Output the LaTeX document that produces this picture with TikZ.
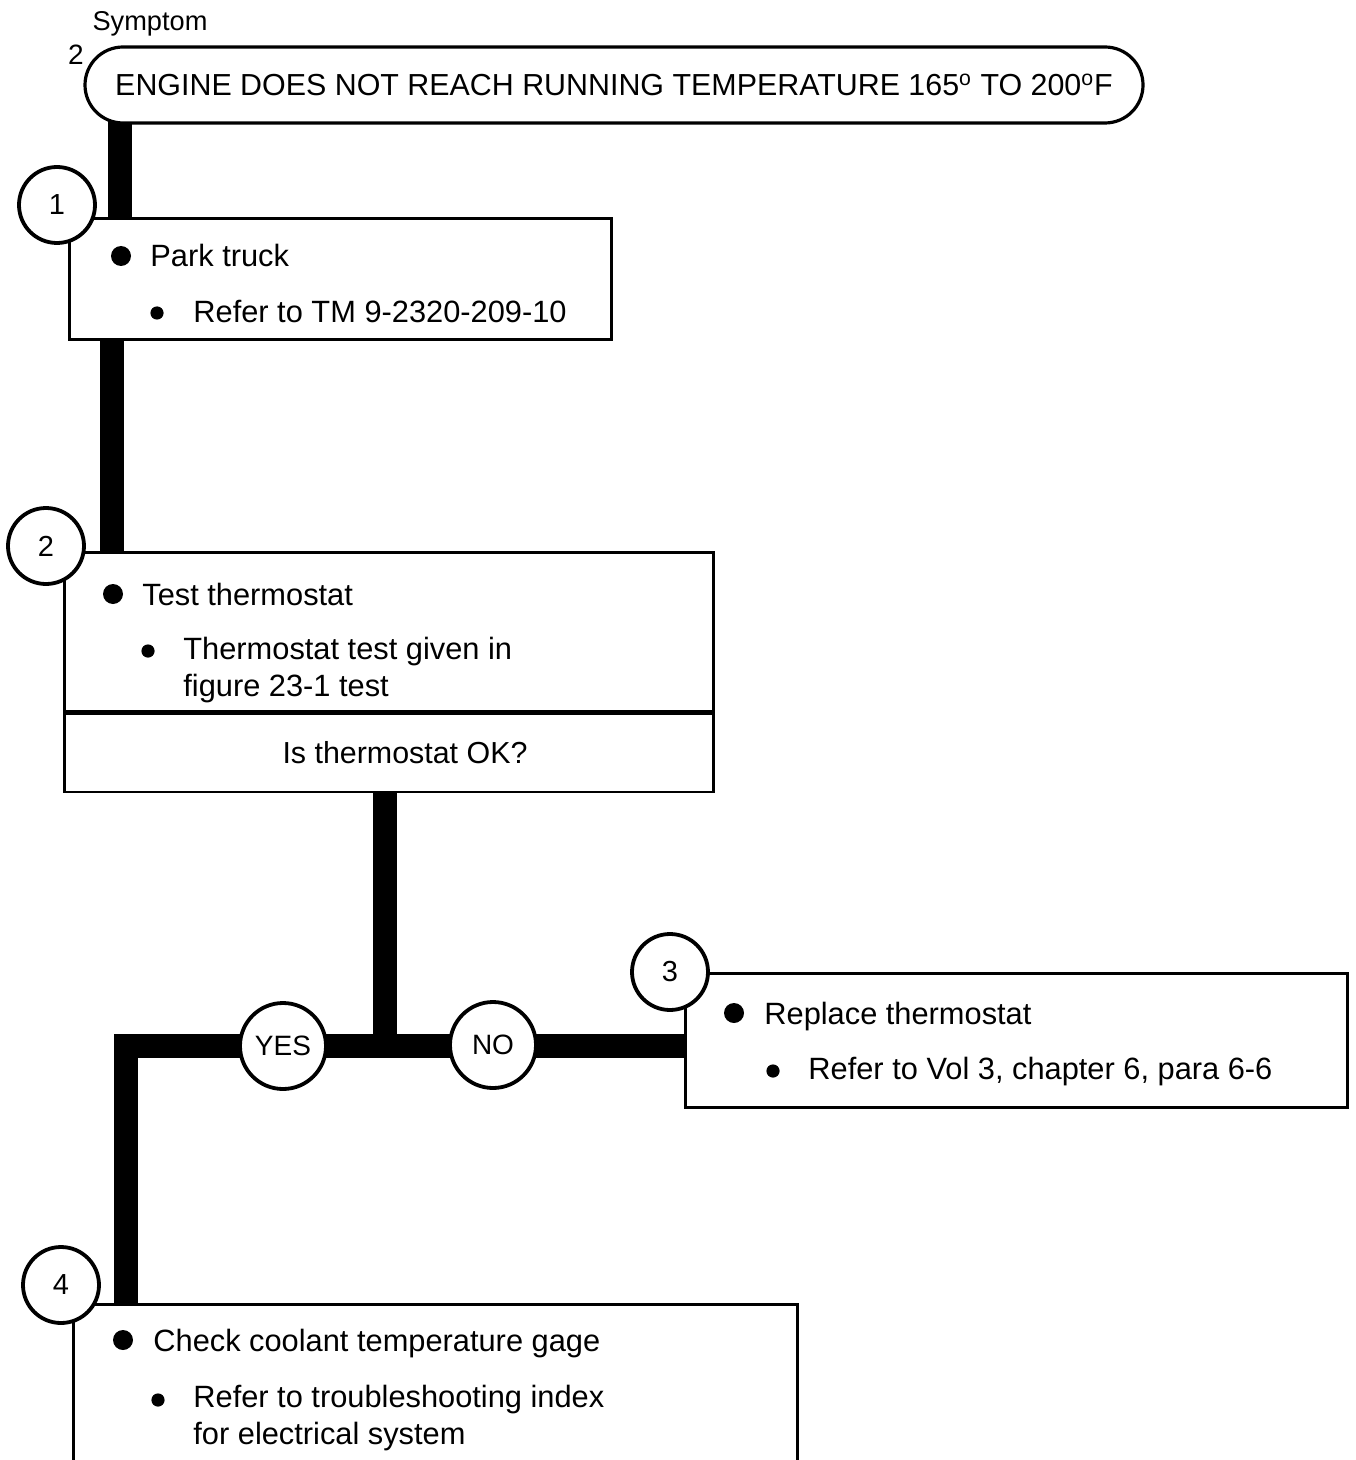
\documentclass[tikz,border=0pt]{standalone}
\usepackage{fontspec}
\setmainfont{Liberation Sans}
\usetikzlibrary{positioning, calc, backgrounds}

\tikzset{
  stepbox/.style={draw, line width=1.3pt, fill=white, anchor=north west, inner sep=0pt},
  stepnum/.style={draw, circle, line width=1.9pt, fill=white, minimum size=38pt, inner sep=0pt, font=\fontsize{14.5}{14.5}\selectfont},
  answer/.style={draw, circle, line width=1.9pt, fill=white, minimum size=43pt, inner sep=0pt, font=\fontsize{14}{14}\selectfont},
  flow/.style={line width=12pt},
  steptext/.style={anchor=base west, inner sep=0pt, align=left, font=\fontsize{15.4}{18.5}\selectfont},
}

\begin{document}
\begin{tikzpicture}[x=0.5pt, y=-0.5pt]
\useasboundingbox (0,0) rectangle (1355,1460);

% symptom
\node[anchor=base, inner sep=0pt, font=\fontsize{13.6}{13.6}\selectfont] (symlabel) at (150,31) {Symptom};
\node[anchor=base, inner sep=0pt, font=\fontsize{14}{14}\selectfont] (symnum) at (76,65) {2};
\node[draw, line width=1.6pt, rounded corners=19pt, minimum width=529pt, minimum height=38pt, inner sep=0pt, fill=white,
      font=\fontsize{15.2}{15.2}\selectfont] (symptom) at (614,85)
  {ENGINE DOES NOT REACH RUNNING TEMPERATURE 165\textsuperscript{o} TO 200\textsuperscript{o}F};

% boxes
\node[stepbox, minimum width=271pt, minimum height=60.5pt] (park) at (68,217) {};
\node[stepbox, minimum width=324.5pt, minimum height=79.5pt] (test) at (63,551) {};
\node[stepbox, minimum width=324.5pt, minimum height=39pt] (ok) at (test.south west) {};
\node[stepbox, minimum width=331pt, minimum height=67pt] (replace) at (684,972) {};
\node[stepbox, minimum width=362pt, minimum height=120pt] (gage) at (72,1303) {};

% texts (two-line texts sit on their last baseline)
\node[steptext] (parkmain) at (150,267) {Park truck};
\node[steptext] (parksub) at (193,323) {Refer to TM 9-2320-209-10};
\node[steptext] (testmain) at (142,605) {Test thermostat};
\node[steptext] (testsub) at (183,696) {Thermostat test given in\\figure 23-1 test};
\node[anchor=base, inner sep=0pt, font=\fontsize{15.2}{15.2}\selectfont] (okq) at (405,763) {Is thermostat OK?};
\node[steptext] (replmain) at (764,1024) {Replace thermostat};
\node[steptext] (replsub) at (808,1079) {Refer to Vol 3, chapter 6, para 6-6};
\node[steptext] (gagemain) at (153,1351) {Check coolant temperature gage};
\node[steptext] (gagesub) at (193,1444) {Refer to troubleshooting index\\for electrical system};

% bullets
\foreach \x/\y in {121/256, 113/594, 734/1013, 123/1340}
  \fill (\x,\y) circle (5pt);
\foreach \x/\y in {157/313, 148/651, 773/1071, 158/1400}
  \fill (\x,\y) circle (3.3pt);

% step numbers
\foreach \n/\x/\y in {1/57/205, 2/46/546, 3/670/972, 4/61/1285}
  \node[stepnum] (num\n) at (\x,\y) {\n};

\node[answer] (yes) at (283,1046) {YES};
\node[answer] (no) at (493,1045) {NO};

% flow lines
\coordinate (c1) at ($(park.north west)+(52,0)$);
\coordinate (c2) at ($(test.north west)+(49,0)$);
\coordinate (c3) at ($(ok.south west)+(322,0)$);
\coordinate (c4) at ($(gage.north west)+(54,0)$);
\begin{scope}[on background layer]
\draw[flow] (c1 |- symptom.center) -- (c1);
\draw[flow] (c2 |- park.south) -- (c2);
\draw[flow] (c3) -- (c3 |- yes);
\draw[flow] (c4) |- (replace.center |- yes);
\end{scope}
\end{tikzpicture}
\end{document}
